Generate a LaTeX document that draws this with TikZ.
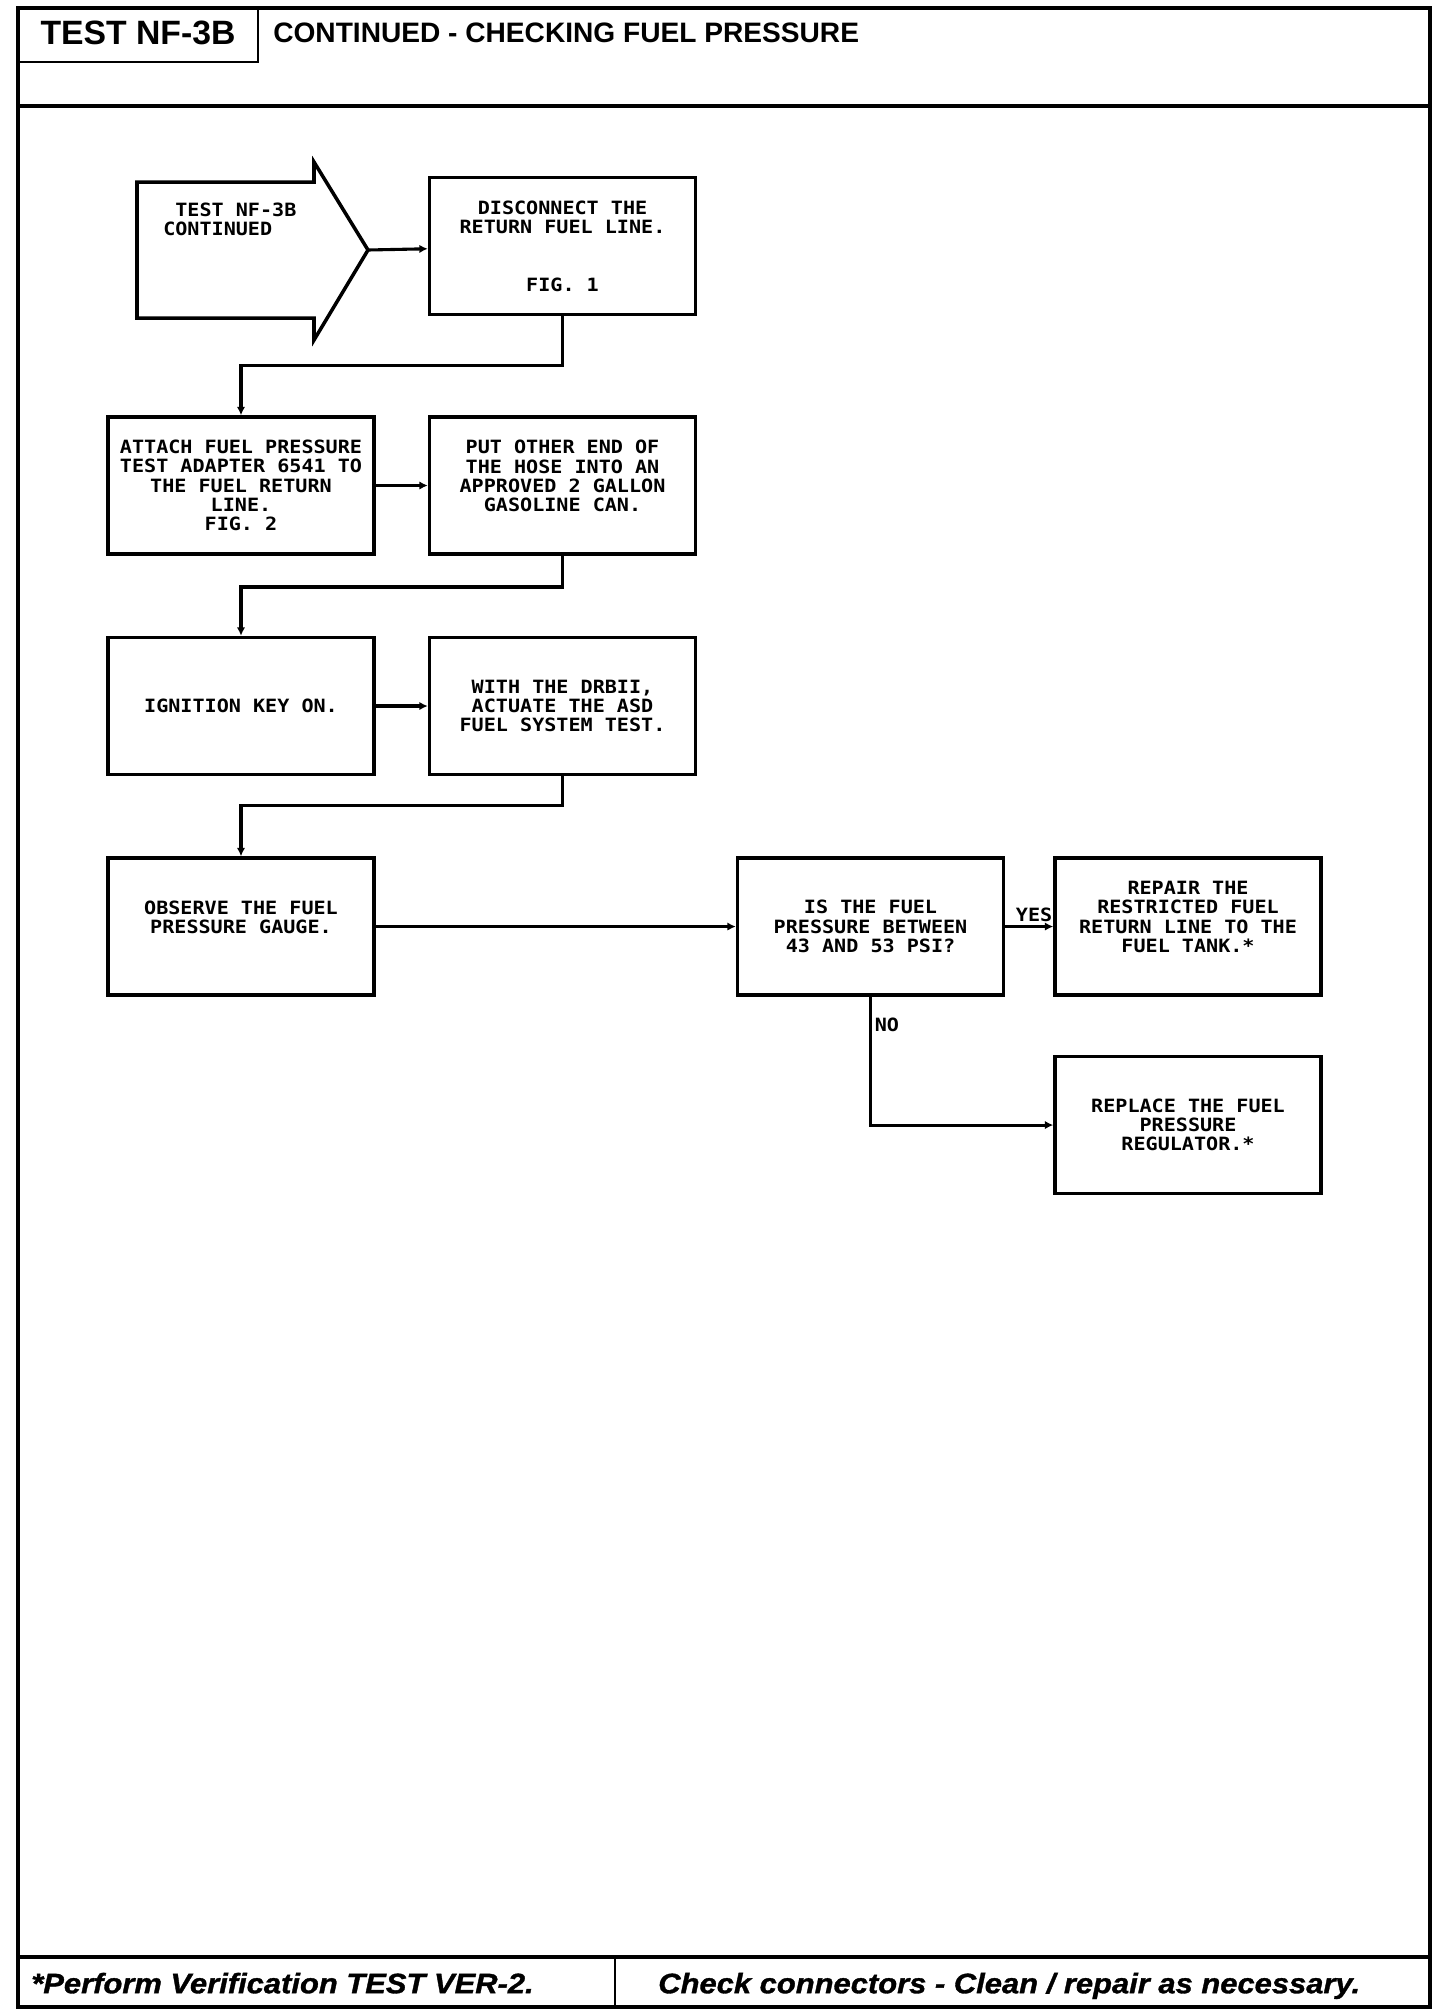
\documentclass[tikz,border=0pt]{standalone}
\usepackage{fontspec}
\usepackage{tikz}
\usetikzlibrary{arrows.meta, positioning}
\newfontfamily\plotfont[FakeStretch=1.1]{DejaVu Sans Mono}
\newfontfamily\headfont{Liberation Sans}
\newfontfamily\footfont[FakeStretch=1.1, FakeBold=1.2]{Liberation Sans}
\tikzset{
  stepbox/.style={rectangle, draw=black, line width=2.5pt, minimum width=6.65cm,
    minimum height=3.425cm, align=center, inner sep=0pt,
    font=\plotfont\bfseries\fontsize{13}{13.7}\selectfont},
  tag/.style={font=\plotfont\bfseries\fontsize{13}{13.7}\selectfont, inner sep=2pt},
  arrow/.style={-{Latex[length=6pt,width=6pt]}, line width=2.2pt},
  frame/.style={line width=2.6pt},
  thinframe/.style={line width=1.6pt},
}

\begin{document}
\begin{tikzpicture}
  \useasboundingbox (0,0) rectangle (36,-50.3);
  \fill[white] (0,0) rectangle (36,-50.3);

  % page frame, header and footer
  \draw[frame] (0.45,-0.2) rectangle (35.75,-50.175);
  \draw[frame] (0.45,-2.65) -- (35.75,-2.65);
  \draw[frame] (0.45,-48.925) -- (35.75,-48.925);
  \draw[thinframe] (6.45,-0.2) -- (6.45,-1.55) -- (0.45,-1.55);
  \draw[thinframe] (15.375,-48.925) -- (15.375,-50.175);

  \node[anchor=base, inner sep=0pt, font=\headfont\bfseries\fontsize{24}{24}\selectfont]
    (testid) at (3.45,-1.1) {TEST NF-3B};
  \node[anchor=base west, inner sep=0pt, font=\headfont\bfseries\fontsize{20}{20}\selectfont]
    (title) at (6.825,-1.05) {CONTINUED - CHECKING FUEL PRESSURE};
  \node[anchor=base west, inner sep=0pt, font=\footfont\bfseries\itshape\fontsize{20}{20}\selectfont]
    (verify) at (0.775,-49.83) {*Perform Verification TEST VER-2.};
  \node[anchor=base west, inner sep=0pt, font=\footfont\bfseries\itshape\fontsize{20}{20}\selectfont]
    (clean) at (16.45,-49.83) {Check connectors - Clean / repair as necessary.};

  % entry arrow
  \draw[line width=2.5pt] (3.425,-4.55) -- (7.85,-4.55) -- (7.85,-4.05) -- (9.2,-6.25)
    -- (7.85,-8.5) -- (7.85,-7.95) -- (3.425,-7.95) -- cycle;
  \coordinate (tip) at (9.2,-6.25);
  \node[tag, anchor=west, align=left, inner sep=0pt] (start) at (4.075,-5.49)
    {\ TEST NF-3B\\CONTINUED};

  % steps
  \node[stepbox] (attach) at (6.025,-12.1375)
    {ATTACH FUEL PRESSURE\\TEST ADAPTER 6541 TO\\THE FUEL RETURN\\LINE.\\FIG. 2};
  \node[stepbox, right=1.3cm of attach] (put)
    {PUT OTHER END OF\\THE HOSE INTO AN\\APPROVED 2 GALLON\\GASOLINE CAN.\\~};
  \node[stepbox, above=2.475cm of put] (disc)
    {DISCONNECT THE\\RETURN FUEL LINE.\\~\\~\\FIG. 1};
  \node[stepbox, below=2cm of attach] (ign) {IGNITION KEY ON.};
  \node[stepbox, right=1.3cm of ign] (drb)
    {WITH THE DRBII,\\ACTUATE THE ASD\\FUEL SYSTEM TEST.};
  \node[stepbox, below=2cm of ign] (observe) {OBSERVE THE FUEL\\PRESSURE GAUGE.\\~};
  \node[stepbox, right=9.0cm of observe] (check)
    {IS THE FUEL\\PRESSURE BETWEEN\\43 AND 53 PSI?};
  \node[stepbox, right=1.2cm of check] (repair)
    {REPAIR THE\\RESTRICTED FUEL\\RETURN LINE TO THE\\FUEL TANK.*\\~};
  \node[stepbox, below=1.45cm of repair] (regulator)
    {REPLACE THE FUEL\\PRESSURE\\REGULATOR.*};

  \draw[arrow] (tip) -- (disc);
  \draw[arrow] (disc.south) -- ++(0,-1.24) -| (attach.north);
  \draw[arrow] (attach) -- (put);
  \draw[arrow] (put.south) -- ++(0,-0.78) -| (ign.north);
  \draw[arrow] (ign) -- (drb);
  \draw[arrow] (drb.south) -- ++(0,-0.72) -| (observe.north);
  \draw[arrow] (observe) -- (check);
  \draw[arrow] (check) -- node[tag, above, pos=0.6] (yes) {YES} (repair);
  \draw[arrow] (check.south) |- node[tag, right, pos=0.11] (no) {NO} (regulator);
\end{tikzpicture}
\end{document}
